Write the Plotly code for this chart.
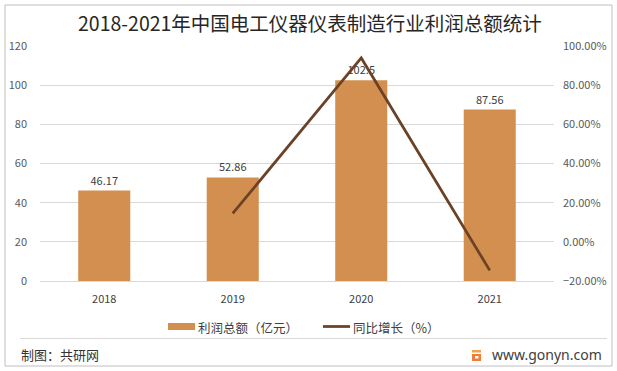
import plotly.graph_objects as go

years = ["2018", "2019", "2020", "2021"]
profit = [46.17, 52.86, 102.5, 87.56]
growth_years = ["2019", "2020", "2021"]
growth = [14.49, 93.91, -14.58]
bar_labels = ["46.17", "52.86", "102.5", "87.56"]
series_names = ["利润总额（亿元）", "同比增长（%）"]

font_cn = "Noto Sans CJK SC"
W, H = 617, 371
L, R, T, B = 40, 63, 46, 90
pw, ph = W - L - R, H - T - B
BAR_COLOR = "#D38F4F"
LINE_COLOR = "#6B4226"

def px(x):
    return (x - L) / pw

def py(y):
    return (H - B - y) / ph

fig = go.Figure()
fig.add_trace(go.Bar(
    x=years, y=profit, name=series_names[0],
    marker=dict(color=BAR_COLOR, line=dict(width=0)),
    text=bar_labels, textposition="outside",
    textfont=dict(size=11, color="#404040", family=font_cn),
    cliponaxis=False,
))
fig.add_trace(go.Scatter(
    x=growth_years, y=growth, name=series_names[1], yaxis="y2",
    mode="lines", line=dict(color=LINE_COLOR, width=2.75),
))

def logo_path():
    pts = [(472, 354), (481, 354), (481, 361), (472, 361), (472, 354)]
    return "M " + " L ".join(f"{px(x)},{py(y)}" for x, y in pts) + " Z"

fig.update_layout(
    width=W, height=H,
    margin=dict(l=L, r=R, t=T, b=B, pad=0, autoexpand=False),
    paper_bgcolor="white", plot_bgcolor="white",
    font=dict(family=font_cn, color="#595959", size=11),
    bargap=0.595,
    showlegend=False,
    xaxis=dict(showgrid=False, showline=True, linecolor="#D9D9D9", linewidth=1,
               ticks="", tickfont=dict(size=11, color="#404040"), ticklabelstandoff=8,
               automargin=False),
    yaxis=dict(range=[0, 120], dtick=20, showgrid=True, gridcolor="#D9D9D9",
               zeroline=False, showline=False, ticks="",
               tickfont=dict(size=11, color="#595959"), ticklabelstandoff=12,
               automargin=False),
    yaxis2=dict(range=[-20, 100], dtick=20, overlaying="y", side="right",
                showgrid=False, zeroline=False, showline=False,
                ticksuffix=".00%", tickfont=dict(size=11, color="#595959"),
                ticklabelstandoff=8, automargin=False),
    shapes=[
        dict(type="rect", xref="paper", yref="paper", x0=px(5), x1=px(612),
             y0=py(366), y1=py(5), line=dict(color="#BFBFBF", width=1), layer="below"),
        dict(type="line", xref="paper", yref="paper", x0=px(20), x1=px(607),
             y0=py(338.5), y1=py(338.5), line=dict(color="#D9D9D9", width=1)),
        # legend swatches
        dict(type="rect", xref="paper", yref="paper", x0=px(168), x1=px(195),
             y0=py(330), y1=py(323), line=dict(width=0), fillcolor=BAR_COLOR),
        dict(type="line", xref="paper", yref="paper", x0=px(323), x1=px(350),
             y0=py(326.5), y1=py(326.5), line=dict(color=LINE_COLOR, width=2.75)),
        # logo
        dict(type="rect", xref="paper", yref="paper", x0=px(472), x1=px(481),
             y0=py(352.5), y1=py(350), line=dict(width=0), fillcolor="#F5A04E"),
        dict(type="path", xref="paper", yref="paper", path=logo_path(),
             line=dict(width=0), fillcolor="#EE7F3A"),
        dict(type="rect", xref="paper", yref="paper", x0=px(475), x1=px(478.5),
             y0=py(358.5), y1=py(356), line=dict(width=0), fillcolor="white"),
    ],
    annotations=[
        dict(text="2018-2021年中国电工仪器仪表制造行业利润总额统计", xref="paper", yref="paper",
             x=px(310), y=py(23), xanchor="center", yanchor="middle", showarrow=False,
             font=dict(size=19.5, color="#262626", family=font_cn)),
        dict(text=series_names[0], xref="paper", yref="paper", x=px(196), y=py(327),
             xanchor="left", yanchor="middle", showarrow=False,
             font=dict(size=12.5, color="#404040", family=font_cn)),
        dict(text=series_names[1], xref="paper", yref="paper", x=px(351), y=py(327),
             xanchor="left", yanchor="middle", showarrow=False,
             font=dict(size=12.5, color="#404040", family=font_cn)),
        dict(text="制图：共研网", xref="paper", yref="paper", x=px(19), y=py(354),
             xanchor="left", yanchor="middle", showarrow=False,
             font=dict(size=13, color="#333333", family=font_cn)),
        dict(text="www.gonyn.com", xref="paper", yref="paper", x=px(604), y=py(354),
             xanchor="right", yanchor="middle", showarrow=False,
             font=dict(size=14, color="#404040", family="Noto Sans")),
    ],
)

fig.write_html("out.html", config={"displayModeBar": False},
               post_script="document.body.style.margin='0px';document.body.style.padding='0px';document.body.style.overflow='hidden';")
